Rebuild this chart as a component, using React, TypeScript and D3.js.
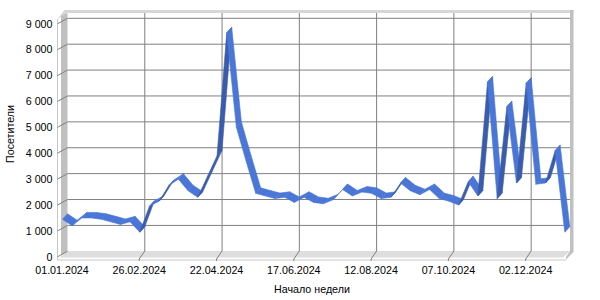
import React from "react";
import * as d3 from "d3";

const values: number[] = [
  1450, 1200, 1500, 1500, 1450, 1350, 1250, 1350, 950, 1950,
  2150, 2750, 3000, 2550, 2300, 3100, 3900, 8650, 5000, 3700,
  2450, 2350, 2250, 2300, 2100, 2300, 2100, 2050, 2200, 2600,
  2350, 2500, 2450, 2250, 2300, 2850, 2550, 2400, 2600, 2250,
  2150, 2000, 2900, 2350, 6750, 2250, 5800, 2850, 6700, 2800,
  2850, 4100, 950,
];
const xTickIdx: number[] = [0, 8, 16, 24, 32, 40, 48];
const xTickLabels: string[] = [
  "01.01.2024", "26.02.2024", "22.04.2024", "17.06.2024",
  "12.08.2024", "07.10.2024", "02.12.2024",
];
const yTicks: number[] = [0, 1000, 2000, 3000, 4000, 5000, 6000, 7000, 8000, 9000];
const yTickLabels: string[] = ["0", "1 000", "2 000", "3 000", "4 000", "5 000", "6 000", "7 000", "8 000", "9 000"];
const yTitle = "Посетители";
const xTitle = "Начало недели";

const FONT = "'Liberation Sans', Arial, sans-serif";

export default function App() {
  const x = d3.scaleLinear().domain([0, values.length - 1]).range([67.5, 569.8]);
  const y = d3.scaleLinear().domain([0, 9000]).range([251.3, 18.3]);
  const left = 67.5, right = 570, top = 13, bottom = 251;
  const wdx = -10, wdy = 6; // wall depth offset
  const rdx = -5, rdy = 5.5; // ribbon depth offset
  const light = "#4a76d7";
  const dark = "#3a5cab";

  const segs = values.slice(0, -1).map((v, i) => {
    const x0 = x(i), y0 = y(v), x1 = x(i + 1), y1 = y(values[i + 1]);
    const sx = x1 - x0, sy = y1 - y0;
    const cross = sx * rdy - sy * rdx;
    const pts = [
      [x0, y0], [x1, y1], [x1 + rdx, y1 + rdy], [x0 + rdx, y0 + rdy],
    ];
    const line = d3.line();
    return { d: line(pts as [number, number][]) + "Z", color: cross >= 0 ? light : dark };
  });

  return (
    <svg width={600} height={300} style={{ position: "absolute", left: 0, top: 0, background: "#fff" }}>
      {/* top band */}
      <polygon points={`${left + wdx},${top + wdy} ${left},${top} ${right + 3.5},${top} ${right + 3.5},${top - 3} ${left - 3},${top - 3}`} fill="#d6d6d6" />
      {/* left wall */}
      <polygon points={`${left - 6.5},${top + 3} ${left},${top} ${left},${bottom + 1} ${left - 6.5},${bottom + 4}`} fill="#c0c0c0" />
      <line x1={57.5} y1={top + wdy} x2={57.5} y2={bottom + 9.5} stroke="#c8c8c8" strokeWidth={1} />
      {/* right wall */}
      <polygon points={`${right},${top - 3} ${right + 3.5},${top - 3} ${right + 3.5},${bottom + 1} ${right - 4},${bottom + 8.5} ${right - 4},${bottom + 6}  ${right},${bottom}`} fill="#c0c0c0" />
      {/* floor */}
      <polygon points={`${left},${bottom} ${right},${bottom} ${right - 7},${bottom + 6.5} ${left - 8},${bottom + 6.5}`} fill="#dedede" />
      <line x1={57.5} y1={bottom + 9} x2={right - 4} y2={bottom + 9} stroke="#c8c8c8" />
      {/* horizontal grid */}
      {yTicks.map((t) => (
        <g key={"yg" + t}>
          {t > 0 && <line x1={left} x2={right} y1={y(t)} y2={y(t)} stroke="#808080" strokeWidth={1} />}
          <line x1={left} y1={y(t)} x2={left + wdx} y2={y(t) + wdy - 0.5} stroke="#808080" strokeWidth={1} />
        </g>
      ))}
      {/* vertical grid */}
      {xTickIdx.map((idx) => (
        <g key={"xg" + idx}>
          {idx > 0 && <line x1={x(idx)} x2={x(idx)} y1={top} y2={bottom} stroke="#808080" strokeWidth={1} />}
          {idx > 0 && <polyline points={`${x(idx)},${bottom} ${x(idx) - 5.5},${bottom + 8} ${x(idx) - 5.5},${bottom + 10}`} fill="none" stroke="#808080" strokeWidth={1} />}
        </g>
      ))}
      {/* ribbon */}
      {segs.map((s, i) => (
        <path key={"s" + i} d={s.d} fill={s.color} stroke={s.color} strokeWidth={0.6} strokeLinejoin="round" />
      ))}
      {/* y labels */}
      {yTicks.map((t, i) => (
        <text key={"yl" + t} x={52.5} y={y(t) + 5.5} dy="0.35em" textAnchor="end" fontFamily={FONT} fontSize={10.7} fill="#000">
          {yTickLabels[i]}
        </text>
      ))}
      {/* x labels */}
      {xTickIdx.map((idx, i) => (
        <text key={"xl" + idx} x={x(idx) - 5.5} y={274} textAnchor="middle" fontFamily={FONT} fontSize={10.7} fill="#000">
          {xTickLabels[i]}
        </text>
      ))}
      <text x={312} y={292.5} textAnchor="middle" fontFamily={FONT} fontSize={10.7} fill="#000">{xTitle}</text>
      <text transform="translate(13.5,134) rotate(-90)" textAnchor="middle" fontFamily={FONT} fontSize={10.7} fill="#000">{yTitle}</text>
    </svg>
  );
}
